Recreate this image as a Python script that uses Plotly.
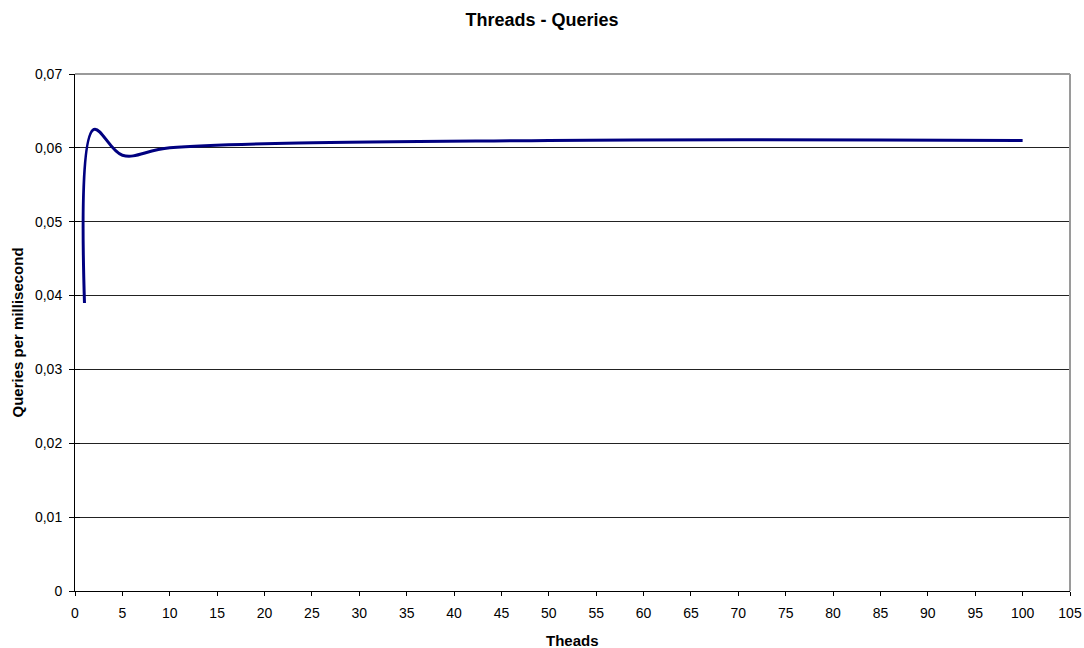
import plotly.graph_objects as go

# Measured throughput per thread count
threads = [1, 2, 5, 10, 50, 100]
queries_per_ms = [0.039, 0.0625, 0.059, 0.060, 0.061, 0.061]

x_ticks = list(range(0, 106, 5))
y_ticks = [0, 0.01, 0.02, 0.03, 0.04, 0.05, 0.06, 0.07]
y_tick_text = ["0", "0,01", "0,02", "0,03", "0,04", "0,05", "0,06", "0,07"]

font_family = "Liberation Sans, Arial, sans-serif"

W, H = 1084, 648
M_L, M_R, M_T, M_B = 75, 14, 74, 57
plot_w = W - M_L - M_R
plot_h = H - M_T - M_B

fig = go.Figure()
fig.add_trace(go.Scatter(
    x=threads,
    y=queries_per_ms,
    mode="lines",
    line=dict(color="#000080", width=3, shape="spline", smoothing=1.0),
    showlegend=False,
    hoverinfo="x+y",
))

fig.update_layout(
    width=W,
    height=H,
    margin=dict(l=M_L, r=M_R, t=M_T, b=M_B, autoexpand=False),
    paper_bgcolor="white",
    plot_bgcolor="white",
    font=dict(family=font_family, size=14, color="black"),
    title=dict(
        text="<b>Threads - Queries</b>",
        x=0.5, xanchor="center",
        y=1 - 20 / H, yanchor="middle",
        font=dict(size=18, family=font_family, color="black"),
    ),
)

fig.update_xaxes(
    range=[0, 105],
    tickvals=x_ticks,
    ticktext=[str(v) for v in x_ticks],
    ticks="outside", ticklen=4, tickcolor="black", tickwidth=1,
    ticklabelstandoff=5,
    showline=True, linecolor="black", linewidth=1,
    showgrid=False, zeroline=False,
    tickfont=dict(size=14),
    automargin=False,
)

fig.update_yaxes(
    range=[0, 0.07],
    tickvals=y_ticks,
    ticktext=y_tick_text,
    ticks="outside", ticklen=5, tickcolor="black", tickwidth=1,
    ticklabelstandoff=4,
    minor=dict(ticks="inside", tickvals=y_ticks, ticklen=5, tickcolor="black",
               tickwidth=1, showgrid=False),
    showline=True, linecolor="black", linewidth=1,
    showgrid=True, gridcolor="#222222", gridwidth=1,
    zeroline=False,
    tickfont=dict(size=14),
    automargin=False,
)

# Axis titles placed at fixed offsets from the plot area
fig.add_annotation(
    text="<b>Theads</b>", xref="paper", yref="paper",
    x=0.5, y=-(640 - (H - M_B)) / plot_h,
    xanchor="center", yanchor="middle", showarrow=False,
    font=dict(size=15, family=font_family, color="black"),
)
fig.add_annotation(
    text="<b>Queries per millisecond</b>", xref="paper", yref="paper",
    x=-(M_L - 17) / plot_w, y=0.5, textangle=-90,
    xanchor="center", yanchor="middle", showarrow=False,
    font=dict(size=15, family=font_family, color="black"),
)

# Light gray frame on the top and right sides of the plot area
fig.add_shape(type="line", xref="paper", yref="paper", x0=0, x1=1, y0=1, y1=1,
              line=dict(color="#9a9a9a", width=2))
fig.add_shape(type="line", xref="paper", yref="paper", x0=1, x1=1, y0=0, y1=1,
              line=dict(color="#9a9a9a", width=2))

fig.write_html("out.html")
